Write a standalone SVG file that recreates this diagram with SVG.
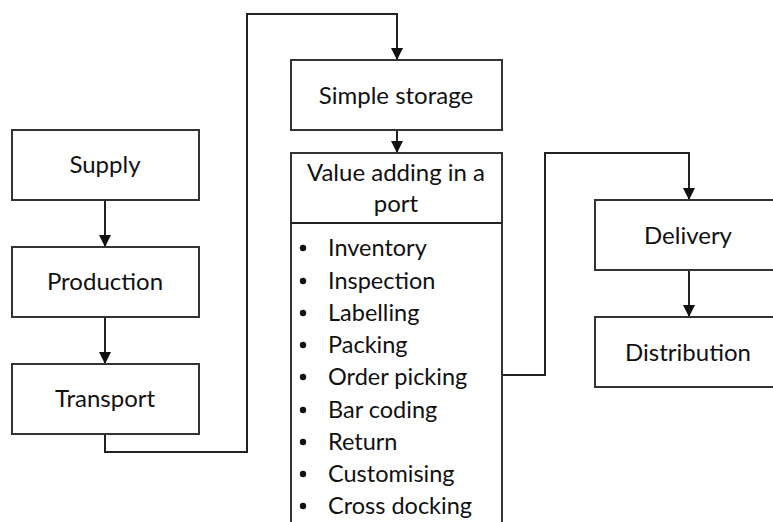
<svg xmlns="http://www.w3.org/2000/svg" width="773" height="522" viewBox="0 0 773 522">
<defs>
<marker id="ah" viewBox="0 0 12 12" refX="11" refY="6" markerWidth="12" markerHeight="12" markerUnits="userSpaceOnUse" orient="auto">
<path d="M0,0 L12,6 L0,12 Z" fill="#111"/>
</marker>
</defs>
<style>
.box{fill:#fff;stroke:#333;stroke-width:2}
.t{font-family:Lato,"Liberation Sans",sans-serif;font-size:24px;fill:#111;text-anchor:middle}
.li{font-family:Lato,"Liberation Sans",sans-serif;font-size:23.5px;fill:#111}
.c{fill:none;stroke:#222;stroke-width:2}
</style>
<rect width="773" height="522" fill="#fff"/>
<g id="connectors">
<path class="c" d="M105,200 V246" marker-end="url(#ah)"/>
<path class="c" d="M105,317 V363" marker-end="url(#ah)"/>
<path class="c" d="M105,434 V452 H247 V14 H397 V59" marker-end="url(#ah)"/>
<path class="c" d="M397,130 V152" marker-end="url(#ah)"/>
<path class="c" d="M502,375 H545 V153 H689 V199" marker-end="url(#ah)"/>
<path class="c" d="M689,270 V316" marker-end="url(#ah)"/>
</g>
<g id="supply"><rect class="box" x="12" y="130" width="187" height="70"/><text class="t" x="105" y="173">Supply</text></g>
<g id="production"><rect class="box" x="12" y="247" width="187" height="70"/><text class="t" x="105" y="290">Production</text></g>
<g id="transport"><rect class="box" x="12" y="364" width="187" height="70"/><text class="t" x="105" y="407">Transport</text></g>
<g id="simple-storage"><rect class="box" x="291" y="60" width="211" height="70"/><text class="t" x="396" y="104">Simple storage</text></g>
<g id="value-adding">
<path class="box" d="M291,530 V153 H502 V530"/>
<line class="c" x1="291" y1="223" x2="502" y2="223" stroke="#333"/>
<text class="t" x="396" y="181">Value adding in a</text>
<text class="t" x="396" y="212">port</text>
<g fill="#111">
<circle cx="303" cy="248" r="3.2"/><circle cx="303" cy="281" r="3.2"/><circle cx="303" cy="313" r="3.2"/>
<circle cx="303" cy="345" r="3.2"/><circle cx="303" cy="377" r="3.2"/><circle cx="303" cy="410" r="3.2"/>
<circle cx="303" cy="442" r="3.2"/><circle cx="303" cy="474" r="3.2"/><circle cx="303" cy="506" r="3.2"/>
</g>
<text class="li" x="328" y="256">Inventory</text>
<text class="li" x="328" y="289">Inspection</text>
<text class="li" x="328" y="321">Labelling</text>
<text class="li" x="328" y="353">Packing</text>
<text class="li" x="328" y="385">Order picking</text>
<text class="li" x="328" y="418">Bar coding</text>
<text class="li" x="328" y="450">Return</text>
<text class="li" x="328" y="482">Customising</text>
<text class="li" x="328" y="514">Cross docking</text>
</g>
<g id="delivery"><rect class="box" x="595" y="200" width="190" height="70"/><text class="t" x="688" y="244">Delivery</text></g>
<g id="distribution"><rect class="box" x="595" y="317" width="190" height="70"/><text class="t" x="688" y="361">Distribution</text></g>
</svg>
